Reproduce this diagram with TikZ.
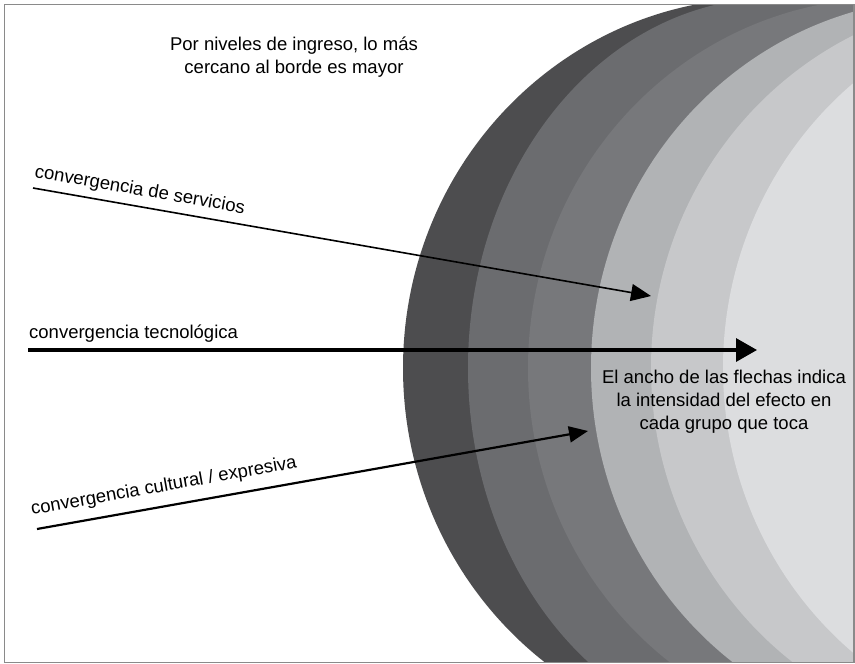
\documentclass[tikz,border=0pt]{standalone}
\usepackage{fontspec}
\setmainfont{Liberation Sans}
\usetikzlibrary{arrows.meta}
\definecolor{framegray}{HTML}{8A8A8A}
\definecolor{band1}{HTML}{4D4D4F}
\definecolor{band2}{HTML}{6B6C6F}
\definecolor{band3}{HTML}{77787B}
\definecolor{band4}{HTML}{B1B3B5}
\definecolor{band5}{HTML}{C7C8CA}
\definecolor{band6}{HTML}{DCDDDF}
\tikzstyle{Label} = [
    inner sep = 0pt,
    anchor = base west,
    font = \fontsize{18.5pt}{23pt}\selectfont
]
\tikzstyle{Text} = [
    inner sep = 0pt,
    align = center,
    font = \fontsize{18.5pt}{23pt}\selectfont
]

\begin{document}
\begin{tikzpicture}[
x = 1pt, y = -1pt,
Arrow/.style = {-{Triangle[length=20pt, width=17pt]}}
]

\useasboundingbox (0,0) rectangle (855,664);
\fill[white] (0,0) rectangle (855,664);

% income bands
\begin{scope}
\clip (4.5,4.5) rectangle (854,662.5);
\foreach \cx/\rx/\tone in {763/360/band1, 774/306/band2, 888/360/band3, 951/360/band4, 1011/360/band5, 1083/360/band6}
    \fill[\tone] (\cx,368) ellipse [x radius=\rx pt, y radius=370pt];
\end{scope}

\draw[framegray, line width=1.3pt] (4.5,4.5) rectangle (854,662.5);

\node[Text] (title) at (294,57) {Por niveles de ingreso, lo más\\cercano al borde es mayor};
\node[Text] (note) at (724,401.5) {El ancho de las flechas indica\\la intensidad del efecto en\\cada grupo que toca};

\coordinate (s1) at (33,188);
\coordinate (t1) at (651,296);
\coordinate (s2) at (28,350);
\coordinate (t2) at (757,350);
\coordinate (s3) at (37,529);
\coordinate (t3) at (588,431);

\draw[Arrow, line width=1.6pt] (s1) -- (t1);
\draw[line width=3.4pt, -{Triangle[length=21pt, width=23pt]}] (s2) -- (t2);
\draw[line width=2.2pt, -{Triangle[length=19pt, width=16pt]}] (s3) -- (t3);

\node[Label, rotate=-9.9] (serv) at (34,177) {convergencia de servicios};
\node[Label] (tec) at (29,338) {convergencia tecnológica};
\node[Label, rotate=10.1] (cult) at (32,515) {convergencia cultural / expresiva};

\end{tikzpicture}
\end{document}
